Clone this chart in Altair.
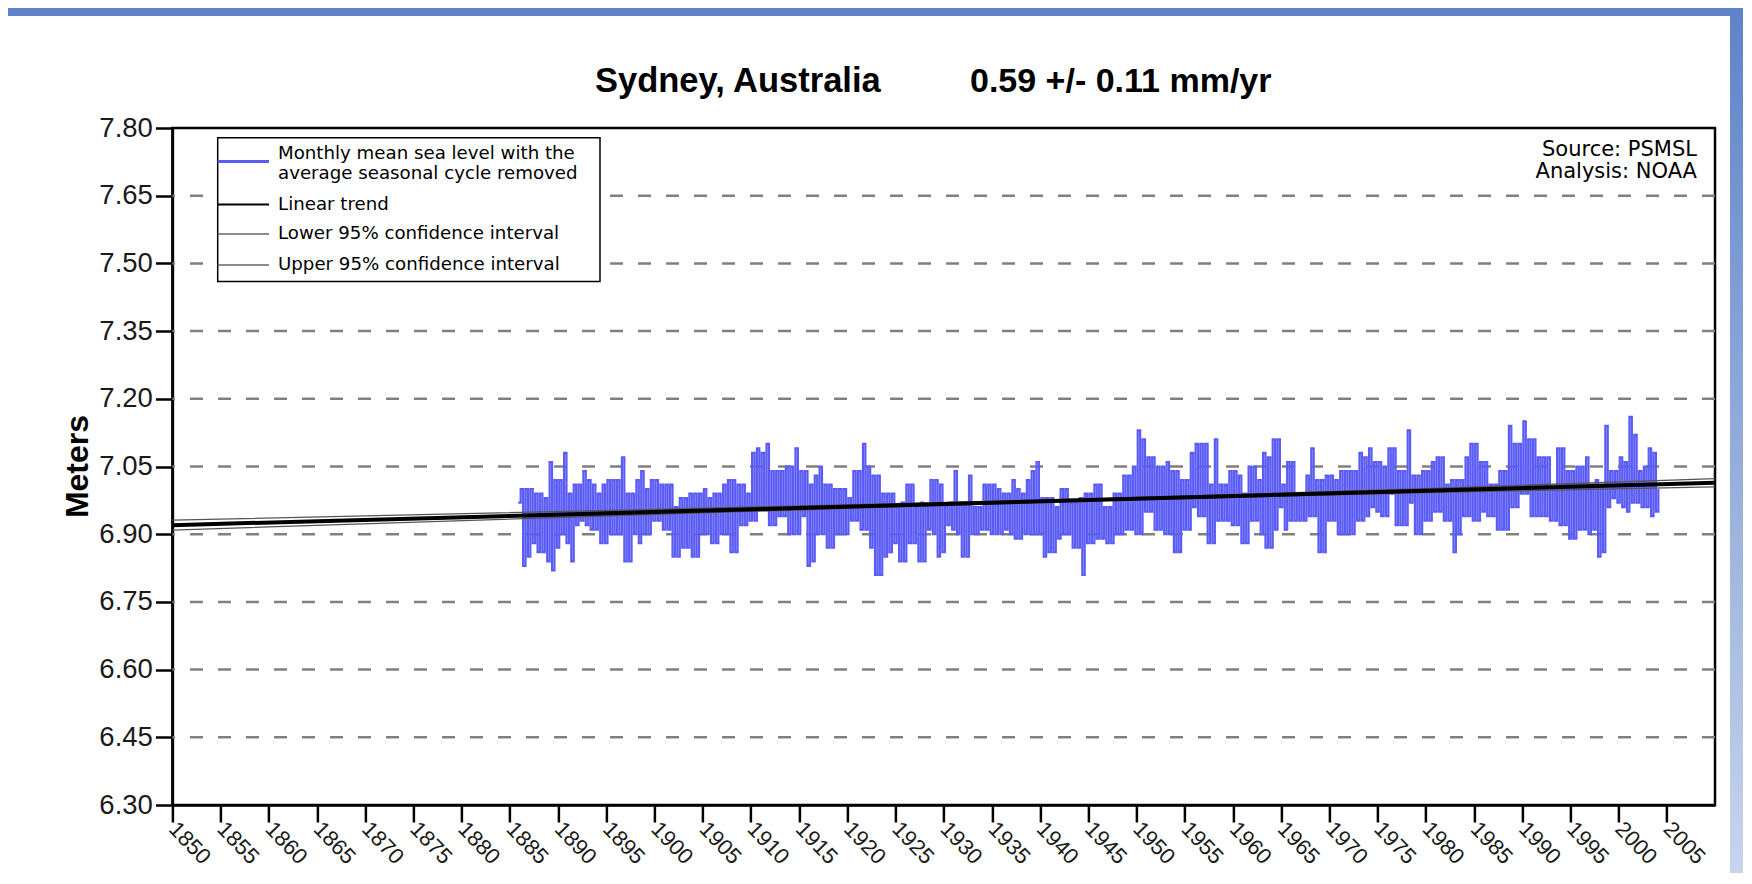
import altair as alt
import pandas as pd

# ---------------- text ----------------
title_place = "Sydney, Australia"
title_rate = "0.59 +/- 0.11 mm/yr"
source_lines = ["Source: PSMSL", "Analysis: NOAA"]
legend_line1 = ["Monthly mean sea level with the", "average seasonal cycle removed"]
legend_others = ["Linear trend", "Lower 95% confidence interval", "Upper 95% confidence interval"]
y_title = "Meters"

# ---------------- axes ----------------
x_ticks = [1850, 1855, 1860, 1865, 1870, 1875, 1880, 1885, 1890, 1895, 1900, 1905,
           1910, 1915, 1920, 1925, 1930, 1935, 1940, 1945, 1950, 1955, 1960, 1965,
           1970, 1975, 1980, 1985, 1990, 1995, 2000, 2005]
y_ticks = [6.30, 6.45, 6.60, 6.75, 6.90, 7.05, 7.20, 7.35, 7.50, 7.65, 7.80]
grid_levels = [6.45, 6.60, 6.75, 6.90, 7.05, 7.20, 7.35, 7.50, 7.65]

# ---------------- sea level (quarter-year readings, m) ----------------
levels_1880s = [6.97,
                7.00, 6.83, 7.00, 6.85, 7.00, 6.88, 6.99, 6.86, 6.99, 6.86, 6.98, 6.84,
                7.06, 6.82, 7.02, 6.87]
levels_1890s = [7.02, 6.90, 7.08, 6.88, 6.99, 6.84, 7.01, 6.92, 7.01, 6.93, 7.04, 6.92,
                7.02, 6.91, 7.01, 6.91, 6.99, 6.88, 7.01, 6.88, 7.02, 6.90, 7.02, 6.90,
                7.02, 6.90, 7.07, 6.84, 6.99, 6.84, 6.99, 6.90, 7.02, 6.88, 7.04, 6.90,
                7.00, 6.90, 7.02, 6.93]
levels_1900s = [7.02, 6.93, 7.01, 6.91, 7.01, 6.91, 7.01, 6.85, 6.96, 6.85, 6.98, 6.87,
                6.98, 6.87, 6.99, 6.85, 6.99, 6.85, 6.99, 6.90, 7.00, 6.90, 6.98, 6.88,
                6.99, 6.88, 6.99, 6.90, 7.01, 6.90, 7.02, 6.86, 7.02, 6.86, 7.01, 6.92,
                7.01, 6.92, 6.99, 6.93]
levels_1910s = [7.08, 6.93, 7.09, 6.96, 7.08, 6.96, 7.10, 6.92, 7.04, 6.92, 7.04, 6.94,
                7.04, 6.94, 7.05, 6.90, 7.05, 6.90, 7.09, 6.90, 7.04, 6.94, 7.04, 6.83,
                7.01, 6.84, 7.03, 6.90, 7.05, 6.90, 7.01, 6.87, 7.01, 6.87, 7.00, 6.90,
                7.00, 6.90, 7.00, 6.90]
levels_1920s = [6.98, 6.93, 7.04, 6.93, 7.04, 6.91, 7.10, 6.91, 7.05, 6.87, 7.03, 6.81,
                7.03, 6.81, 6.99, 6.85, 6.99, 6.86, 6.99, 6.88, 6.96, 6.84, 6.97, 6.84,
                7.01, 6.88, 7.01, 6.88, 6.96, 6.84, 6.97, 6.84, 6.96, 6.91, 7.02, 6.90,
                7.02, 6.85, 7.01, 6.86]
levels_1930s = [6.96, 6.92, 6.97, 6.91, 7.04, 6.90, 6.97, 6.85, 6.97, 6.85, 7.03, 6.90,
                6.96, 6.90, 6.96, 6.91, 7.01, 6.91, 7.01, 6.90, 7.01, 6.90, 7.00, 6.90,
                6.99, 6.91, 6.99, 6.90, 7.02, 6.89, 7.00, 6.89, 6.99, 6.90, 7.02, 6.90,
                7.04, 6.90, 7.06, 6.90]
levels_1940s = [6.98, 6.85, 6.98, 6.86, 6.98, 6.86, 6.96, 6.89, 7.00, 6.90, 7.00, 6.90,
                6.97, 6.87, 6.97, 6.87, 6.98, 6.81, 6.99, 6.88, 6.99, 6.88, 7.01, 6.89,
                7.01, 6.89, 6.96, 6.88, 6.96, 6.88, 6.99, 6.90, 6.99, 6.90, 7.03, 6.91,
                7.03, 6.91, 7.05, 6.90]
levels_1950s = [7.13, 6.90, 7.11, 6.95, 7.07, 6.95, 7.07, 6.91, 7.05, 6.91, 7.05, 6.90,
                7.06, 6.90, 7.04, 6.86, 7.04, 6.86, 7.02, 6.91, 7.02, 6.91, 7.08, 6.96,
                7.10, 6.94, 7.10, 6.94, 7.10, 6.88, 7.01, 6.88, 7.11, 6.93, 7.01, 6.93,
                7.01, 6.93, 7.04, 6.92]
levels_1960s = [7.04, 6.92, 7.03, 6.88, 6.99, 6.88, 7.05, 6.93, 7.05, 6.93, 7.02, 6.90,
                7.08, 6.87, 7.07, 6.87, 7.11, 6.91, 7.11, 6.96, 7.01, 6.91, 7.06, 6.93,
                7.06, 6.93, 6.99, 6.93, 6.99, 6.93, 7.03, 6.94, 7.09, 6.94, 7.02, 6.86,
                7.02, 6.86, 7.03, 6.93]
levels_1970s = [7.03, 6.93, 7.02, 6.90, 7.04, 6.90, 7.04, 6.90, 7.04, 6.90, 7.04, 6.93,
                7.08, 6.93, 7.07, 6.94, 7.09, 6.96, 7.06, 6.95, 7.06, 6.94, 7.05, 6.94,
                7.09, 6.99, 7.09, 6.92, 7.04, 6.92, 7.04, 6.92, 7.13, 6.97, 7.03, 6.90,
                7.03, 6.90, 7.04, 6.93]
levels_1980s = [7.04, 6.93, 7.06, 6.95, 7.07, 6.95, 7.07, 6.93, 7.01, 6.93, 7.02, 6.86,
                7.02, 6.90, 7.02, 6.94, 7.07, 6.94, 7.10, 6.93, 7.10, 6.93, 7.06, 6.95,
                7.06, 6.94, 7.01, 6.94, 7.01, 6.91, 7.04, 6.91, 7.04, 6.91, 7.14, 6.96,
                7.10, 6.96, 7.10, 6.99]
levels_1990s = [7.15, 6.99, 7.11, 6.94, 7.11, 6.94, 7.07, 6.94, 7.07, 6.94, 7.07, 6.93,
                7.00, 6.93, 7.09, 6.92, 7.09, 6.92, 7.04, 6.89, 7.04, 6.89, 7.05, 6.91,
                7.05, 6.91, 7.07, 6.90, 7.01, 6.91, 7.02, 6.85, 7.01, 6.86, 7.14, 6.96,
                7.04, 6.98, 7.04, 6.97]
levels_2000s = [7.07, 6.96, 7.06, 6.95, 7.16, 6.97, 7.12, 6.97, 7.04, 6.96, 7.05, 6.96,
                7.09, 6.94, 7.08, 6.95, 7.00]

decade_series = [(1885.875, levels_1880s), (1890.125, levels_1890s), (1900.125, levels_1900s),
                 (1910.125, levels_1910s), (1920.125, levels_1920s), (1930.125, levels_1930s),
                 (1940.125, levels_1940s), (1950.125, levels_1950s), (1960.125, levels_1960s),
                 (1970.125, levels_1970s), (1980.125, levels_1980s), (1990.125, levels_1990s),
                 (2000.125, levels_2000s)]

# ---------------- trend and confidence interval ----------------
trend_years = [1850, 2010]
trend_levels = [6.920, 7.014]
ci_years = [1850, 1900, 1945, 1980, 2010]
ci_lower = [6.909, 6.944, 6.974, 6.992, 7.005]
ci_upper = [6.931, 6.955, 6.978, 7.001, 7.023]

# ---------------- tables ----------------
rows = []
for start, vals in decade_series:
    for i, v in enumerate(vals):
        rows.append({"year": start + 0.25 * i, "level": v})
sea_df = pd.DataFrame(rows)
trend_df = pd.DataFrame({"year": trend_years, "level": trend_levels})
lower_df = pd.DataFrame({"year": ci_years, "level": ci_lower})
upper_df = pd.DataFrame({"year": ci_years, "level": ci_upper})
grid_df = pd.DataFrame({"level": grid_levels})
one = pd.DataFrame({"k": [0]})

W, H = 1542.6, 677
BLUE = "#5a5cf5"
FONT = "Liberation Sans"
SMALL = "DejaVu Sans"

xscale = alt.Scale(domain=[1850, 2010], nice=False, zero=False)
yscale = alt.Scale(domain=[6.30, 7.80], nice=False, zero=False)

xaxis = alt.Axis(values=x_ticks, format="d", labelAngle=46, labelAlign="left",
                 labelBaseline="middle", labelFontSize=22, labelPadding=3,
                 labelFlush=False, labelOverlap=False, tickSize=17, tickWidth=2.5,
                 tickColor="black", domainColor="black", domainWidth=2.5,
                 grid=False, title=None, labelFont=FONT, labelColor="#1a1a1a")
yaxis = alt.Axis(values=y_ticks, format=".2f", labelFontSize=27.5, labelPadding=3,
                 tickSize=17, tickWidth=2.5, tickColor="black", domainColor="black",
                 domainWidth=2.5, grid=False, title=None, labelFont=FONT,
                 labelColor="#1a1a1a")

layers = []

# decorative blue frame strips
layers.append(alt.Chart(one).mark_rect(color="#5f83c8").encode(
    x=alt.value(-164.4), x2=alt.value(W + 30), y=alt.value(-120), y2=alt.value(-112)))
layers.append(alt.Chart(one).mark_rect(
    color=alt.Gradient(gradient="linear", x1=0, y1=0, x2=0, y2=1,
                       stops=[alt.GradientStop(color="#5f83c8", offset=0),
                              alt.GradientStop(color="#c6d4ee", offset=1)])).encode(
    x=alt.value(W + 15), x2=alt.value(W + 30), y=alt.value(-120), y2=alt.value(H + 68)))

# dashed grid
layers.append(alt.Chart(grid_df).mark_rule(color="#808080", strokeWidth=2.5,
                                           strokeDash=[13, 15]).encode(
    y=alt.Y("level:Q", scale=yscale, axis=yaxis)))

# sea level
layers.append(alt.Chart(sea_df).mark_line(color=BLUE, strokeWidth=2.2,
                                          interpolate="step-after").encode(
    x=alt.X("year:Q", scale=xscale, axis=xaxis),
    y=alt.Y("level:Q", scale=yscale, axis=yaxis)))

# confidence interval and trend
for df in (lower_df, upper_df):
    layers.append(alt.Chart(df).mark_line(color="#555555", strokeWidth=1.3).encode(
        x=alt.X("year:Q", scale=xscale), y=alt.Y("level:Q", scale=yscale)))
layers.append(alt.Chart(trend_df).mark_line(color="black", strokeWidth=4).encode(
    x=alt.X("year:Q", scale=xscale), y=alt.Y("level:Q", scale=yscale)))

# legend box
LX0, LX1, LY0, LY1 = 45.3, 427.6, 9.7, 153.5
layers.append(alt.Chart(one).mark_rect(fill="white", stroke="black", strokeWidth=1.5).encode(
    x=alt.value(LX0), x2=alt.value(LX1), y=alt.value(LY0), y2=alt.value(LY1)))
legend_syms = [(33.5, BLUE, 3), (76.5, "black", 2.2), (106.0, "#666666", 1.3), (137.0, "#666666", 1.3)]
for yy, col, sw in legend_syms:
    layers.append(alt.Chart(one).mark_rule(color=col, strokeWidth=sw).encode(
        x=alt.value(LX0), x2=alt.value(96.6), y=alt.value(yy)))
legend_texts = [(26, legend_line1[0]), (45.5, legend_line1[1]),
                (77, legend_others[0]), (106, legend_others[1]), (137, legend_others[2])]
for yy, txt in legend_texts:
    layers.append(alt.Chart(one).mark_text(text=txt, align="left", baseline="middle",
                                           font=SMALL, fontSize=18.2, color="black").encode(
        x=alt.value(105.6), y=alt.value(yy)))

# source note
for yy, txt in zip([21.5, 43.5], source_lines):
    layers.append(alt.Chart(one).mark_text(text=txt, align="right", baseline="middle",
                                           font=SMALL, fontSize=21, color="black").encode(
        x=alt.value(W - 18), y=alt.value(yy)))

# title
layers.append(alt.Chart(one).mark_text(text=title_place, align="left", baseline="alphabetic",
                                       font=FONT, fontSize=34.5, fontWeight="bold",
                                       color="black").encode(
    x=alt.value(422.6), y=alt.value(-36.4)))
layers.append(alt.Chart(one).mark_text(text=title_rate, align="left", baseline="alphabetic",
                                       font=FONT, fontSize=34, fontWeight="bold",
                                       color="black").encode(
    x=alt.value(797.6), y=alt.value(-36.4)))

# y title
layers.append(alt.Chart(one).mark_text(text=y_title, angle=270, align="center",
                                       baseline="middle", font=FONT, fontSize=32,
                                       fontWeight="bold", color="black").encode(
    x=alt.value(-94.4), y=alt.value(H / 2)))

chart = alt.layer(*layers).properties(
    width=W, height=H,
    autosize=alt.AutoSizeParams(type="none"),
    padding={"left": 164.4, "top": 120, "right": 28, "bottom": 68},
    background="white",
).configure_view(stroke="black", strokeWidth=2.5)

chart.save("out.html", embed_options={"renderer": "svg", "actions": False})
